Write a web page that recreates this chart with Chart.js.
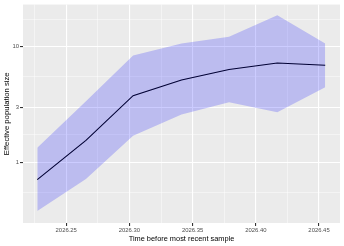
<!DOCTYPE html>
<html><head><meta charset="utf-8">
<script src="https://cdn.jsdelivr.net/npm/chart.js@4/dist/chart.umd.min.js"></script>
<style>html,body{margin:0;padding:0;background:#fff}#c{display:block}</style>
</head><body>
<canvas id="c" width="344" height="246"></canvas>
<script>
const xTimes = [2026.2271, 2026.2656, 2026.3029, 2026.3412, 2026.3788, 2026.4170, 2026.4549];
const medianNe = [0.71, 1.55, 3.77, 5.15, 6.35, 7.22, 6.90];
const upperNe = [1.34, 3.38, 8.39, 10.66, 12.2, 18.7, 10.66];
const lowerNe = [0.38, 0.72, 1.70, 2.60, 3.31, 2.72, 4.47];
const xMajorTicks = [2026.25, 2026.30, 2026.35, 2026.40, 2026.45];
const xMinorTicks = [2026.225, 2026.275, 2026.325, 2026.375, 2026.425];
const yMajorTicks = [1, 3, 10];
const yMinorTicks = [0.548, 1.732, 5.477, 17.32];
const xTitle = 'Time before most recent sample';
const yTitle = 'Effective population size';

const pts = a => a.map((v, i) => ({x: xTimes[i], y: v}));
const isMajor = (list, v) => list.some(m => Math.abs(m - v) < 1e-6);
const FONT = "'Liberation Sans', Arial, sans-serif";

const panelBg = {
  id: 'panelBg',
  beforeDraw(chart) {
    const {ctx, chartArea: a} = chart;
    ctx.save();
    ctx.fillStyle = '#EBEBEB';
    ctx.fillRect(a.left, a.top, a.right - a.left, a.bottom - a.top);
    ctx.restore();
  }
};

new Chart(document.getElementById('c'), {
  type: 'line',
  data: {
    datasets: [
      {data: pts(upperNe), borderWidth: 0, pointRadius: 0, fill: '+1', backgroundColor: 'rgba(0,0,255,0.2)', tension: 0},
      {data: pts(lowerNe), borderWidth: 0, pointRadius: 0, fill: false, tension: 0},
      {data: pts(medianNe), borderColor: '#000000', borderWidth: 1.1, pointRadius: 0, fill: false, tension: 0}
    ]
  },
  options: {
    responsive: false,
    animation: false,
    events: [],
    layout: {padding: {top: 3, right: 4, left: 0, bottom: 0}},
    plugins: {legend: {display: false}, tooltip: {enabled: false}},
    scales: {
      x: {
        type: 'linear',
        min: 2026.2158, max: 2026.4666,
        afterBuildTicks: s => { s.ticks = [...xMinorTicks, ...xMajorTicks].sort((a,b)=>a-b).map(v => ({value: v})); },
        afterFit: s => { s.height = 23; },
        border: {display: false},
        grid: {
          color: c => isMajor(xMajorTicks, c.tick.value) ? '#FFFFFF' : 'rgba(255,255,255,0.75)',
          lineWidth: c => isMajor(xMajorTicks, c.tick.value) ? 1.1 : 0.6,
          tickColor: c => isMajor(xMajorTicks, c.tick.value) ? '#333333' : 'rgba(0,0,0,0)',
          tickLength: 3, drawTicks: true
        },
        ticks: {
          autoSkip: false, maxRotation: 0, padding: 1,
          color: '#4D4D4D', font: {family: FONT, size: 5.9},
          callback: v => isMajor(xMajorTicks, v) ? v.toFixed(2) : ''
        },
        title: {display: true, text: xTitle, color: '#000000', font: {family: FONT, size: 7.4}, padding: {top: 0, bottom: 3}}
      },
      y: {
        type: 'logarithmic',
        min: 0.316, max: 23.1,
        afterBuildTicks: s => { s.ticks = [...yMinorTicks, ...yMajorTicks].sort((a,b)=>a-b).map(v => ({value: v})); },
        afterFit: s => { s.width = 23; },
        border: {display: false},
        grid: {
          color: c => isMajor(yMajorTicks, c.tick.value) ? '#FFFFFF' : 'rgba(255,255,255,0.75)',
          lineWidth: c => isMajor(yMajorTicks, c.tick.value) ? 1.1 : 0.6,
          tickColor: c => isMajor(yMajorTicks, c.tick.value) ? '#333333' : 'rgba(0,0,0,0)',
          tickLength: 3, drawTicks: true
        },
        ticks: {
          autoSkip: false, padding: 1,
          color: '#4D4D4D', font: {family: FONT, size: 5.9},
          callback: v => isMajor(yMajorTicks, v) ? String(v) : ''
        },
        title: {display: true, text: yTitle, color: '#000000', font: {family: FONT, size: 7.7}, padding: {top: 2, bottom: 0}}
      }
    }
  },
  plugins: [panelBg]
});
</script>
</body></html>
